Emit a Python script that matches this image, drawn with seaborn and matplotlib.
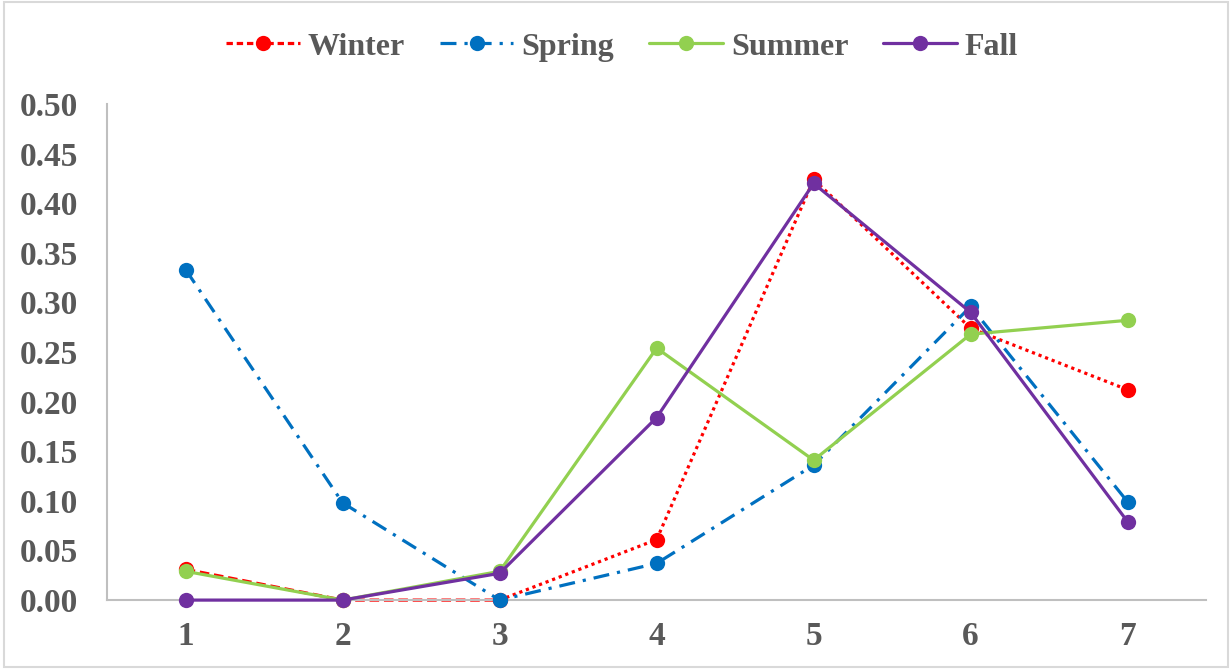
import numpy as np
import pandas as pd
import matplotlib
matplotlib.use("Agg")
import matplotlib.pyplot as plt
from matplotlib.lines import Line2D
from matplotlib.patches import Rectangle
import seaborn as sns

# data
steps = [1, 2, 3, 4, 5, 6, 7]
winter = [0.031, 0.0, 0.0, 0.061, 0.424, 0.274, 0.212]
spring = [0.333, 0.098, 0.0, 0.037, 0.136, 0.296, 0.099]
summer = [0.029, 0.0, 0.029, 0.254, 0.141, 0.268, 0.282]
fall = [0.0, 0.0, 0.027, 0.184, 0.420, 0.290, 0.079]
seasons = ["Winter", "Spring", "Summer", "Fall"]
colors = {"Winter": "#FF0000", "Spring": "#0070C0", "Summer": "#92D050", "Fall": "#7030A0"}

df = pd.DataFrame({
    "step": steps * 4,
    "value": winter + spring + summer + fall,
    "season": np.repeat(seasons, len(steps)),
})

sns.set_style("white")
plt.rcParams["font.family"] = ["Liberation Serif", "DejaVu Serif"]
plt.rcParams["font.weight"] = "bold"

fig = plt.figure(figsize=(12.32, 6.69), dpi=100)
ax = fig.add_axes([0.087, 0.103, 0.892, 0.7415])

lw = 2.3
ms = 11

# Winter: dashed for the first segments, dotted afterwards
w = df[df.season == "Winter"]
sns.lineplot(data=w[w.step <= 3], x="step", y="value", color=colors["Winter"],
             linestyle=(0, (3, 1.5)), linewidth=lw, ax=ax, clip_on=False)
sns.lineplot(data=w[w.step >= 3], x="step", y="value", color=colors["Winter"],
             linestyle=(0, (1, 1.2)), linewidth=lw, ax=ax, clip_on=False)
ax.plot(w.step, w.value, "o", color=colors["Winter"], ms=ms, mew=0, clip_on=False, zorder=3)

styles = {"Spring": (0, (5, 2.5, 1, 2.5)), "Summer": "-", "Fall": "-"}
for s in ["Spring", "Summer", "Fall"]:
    sub = df[df.season == s]
    sns.lineplot(data=sub, x="step", y="value", color=colors[s], linestyle=styles[s],
                 linewidth=lw, marker="o", markersize=ms, markeredgewidth=0,
                 ax=ax, clip_on=False, zorder=4)

ax.set_xlim(0.5, 7.5)
ax.set_ylim(0, 0.5)
ax.set_xticks(steps)
ax.set_yticks(np.arange(0, 0.501, 0.05))
ax.set_yticklabels([f"{v:.2f}" for v in np.arange(0, 0.501, 0.05)])
ax.set_xlabel("")
ax.set_ylabel("")
ax.tick_params(axis="both", length=0, labelsize=24, labelcolor="#595959")
ax.tick_params(axis="y", pad=21)
ax.tick_params(axis="x", pad=15)
for lab in ax.get_xticklabels() + ax.get_yticklabels():
    lab.set_fontweight("bold")
for side in ["top", "right"]:
    ax.spines[side].set_visible(False)
for side in ["left", "bottom"]:
    ax.spines[side].set_color("#BFBFBF")
    ax.spines[side].set_linewidth(1.5)

handles = [
    Line2D([], [], color=colors["Winter"], linestyle=(0, (2, 1.2)), lw=lw, marker="o", ms=ms, mew=0),
    Line2D([], [], color=colors["Spring"], linestyle=(0, (5, 2.5, 1, 2.5)), lw=lw, marker="o", ms=ms, mew=0),
    Line2D([], [], color=colors["Summer"], lw=lw, marker="o", ms=ms, mew=0),
    Line2D([], [], color=colors["Fall"], lw=lw, marker="o", ms=ms, mew=0),
]
leg = fig.legend(handles, seasons, loc="center", bbox_to_anchor=(0.505, 0.93), ncol=4,
                 frameon=False, handlelength=2.3, columnspacing=1.1, handletextpad=0.25,
                 prop={"size": 23, "weight": "bold"})
for t in leg.get_texts():
    t.set_color("#595959")

fig.patches.append(Rectangle((0.003, 0.003), 0.994, 0.994, transform=fig.transFigure,
                             fill=False, edgecolor="#D9D9D9", linewidth=1.5))

fig.savefig("out.png", dpi=100)
